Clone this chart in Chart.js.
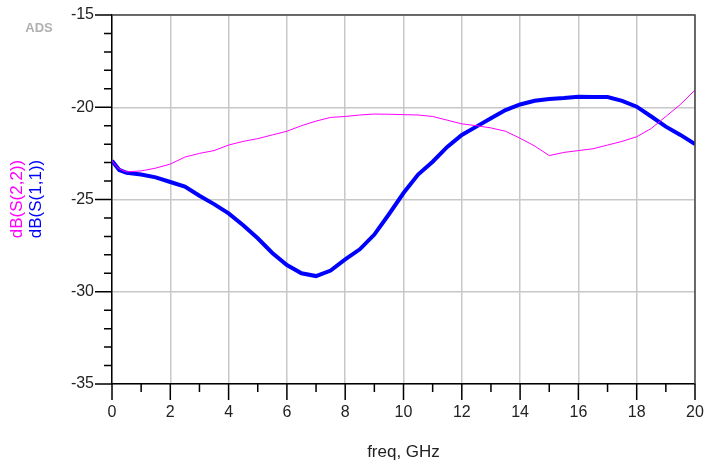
<!DOCTYPE html>
<html>
<head>
<meta charset="utf-8">
<script src="https://cdn.jsdelivr.net/npm/chart.js@4"></script>
<style>
  html, body { margin: 0; padding: 0; background: #fff; }
  #wrap { width: 708px; height: 468px; }
</style>
</head>
<body>
<div id="wrap"><canvas id="sparam"></canvas></div>
<script>
// frequency points (GHz) shared by both traces
const freqGHz = [0, 0.1, 0.25, 0.5, 1, 1.5, 2, 2.5, 3, 3.5, 4, 4.5, 5, 5.5, 6, 6.5, 7, 7.5, 8, 8.5, 9, 9.5, 10,
  10.5, 11, 11.5, 12, 12.5, 13, 13.5, 14, 14.5, 15, 15.5, 16, 16.5, 17, 17.5, 18, 18.5, 19, 19.5, 20];

const dbS22 = [-22.9, -23.1, -23.35, -23.5, -23.45, -23.3, -23.08, -22.7, -22.5, -22.35, -22.05, -21.85, -21.7,
  -21.5, -21.3, -21.0, -20.75, -20.55, -20.5, -20.42, -20.37, -20.38, -20.4, -20.42, -20.5, -20.7, -20.9, -21.0,
  -21.12, -21.3, -21.68, -22.1, -22.62, -22.45, -22.35, -22.25, -22.05, -21.85, -21.6, -21.15, -20.5, -19.85, -19.07];

const dbS11 = [-22.9, -23.1, -23.4, -23.55, -23.65, -23.8, -24.05, -24.3, -24.8, -25.25, -25.75, -26.4, -27.1,
  -27.9, -28.55, -29.0, -29.15, -28.85, -28.25, -27.7, -26.9, -25.8, -24.65, -23.65, -22.95, -22.15, -21.5, -21.05,
  -20.6, -20.15, -19.85, -19.65, -19.55, -19.5, -19.43, -19.45, -19.45, -19.65, -19.97, -20.5, -21.05, -21.5, -22.0];

const xMin = 0, xMax = 20, xMajor = 2;
const yMin = -35, yMax = -15, yMajor = 5;

const FONT = "'Liberation Sans', Arial, sans-serif";

function pts(ys) {
  return freqGHz.map((f, i) => ({ x: f, y: ys[i] }));
}

// ADS-style decorations: outer frame, minor/major tick marks, stacked y titles, "ADS" tag
const adsDecor = {
  id: 'adsDecor',
  beforeDraw(chart) {
    const ctx = chart.ctx;
    ctx.save();
    ctx.fillStyle = '#fff';
    ctx.fillRect(0, 0, chart.width, chart.height);
    ctx.restore();
  },
  afterDraw(chart) {
    const ctx = chart.ctx;
    const a = chart.chartArea;
    const xs = chart.scales.x, ys = chart.scales.y;
    ctx.save();

    // top / right frame
    ctx.strokeStyle = '#444';
    ctx.lineWidth = 1.5;
    ctx.beginPath();
    ctx.moveTo(a.left, a.top);
    ctx.lineTo(a.right, a.top);
    ctx.lineTo(a.right, a.bottom);
    ctx.stroke();

    // tick marks
    ctx.strokeStyle = '#000';
    ctx.lineWidth = 1.5;
    ctx.beginPath();
    xs.ticks.forEach(t => {
      const px = xs.getPixelForValue(t.value);
      const len = (t.value % xMajor === 0) ? 16 : 8;
      ctx.moveTo(px, a.bottom);
      ctx.lineTo(px, a.bottom + len);
    });
    ys.ticks.forEach(t => {
      const py = ys.getPixelForValue(t.value);
      const len = (t.value % yMajor === 0) ? 17 : 8;
      ctx.moveTo(a.left, py);
      ctx.lineTo(a.left - len, py);
    });
    ctx.stroke();

    // stacked y titles
    ctx.font = '17px ' + FONT;
    ctx.textAlign = 'center';
    ctx.textBaseline = 'middle';
    ctx.translate(0, 199);
    ctx.rotate(-Math.PI / 2);
    ctx.fillStyle = '#ff00ff';
    ctx.fillText('dB(S(2,2))', 0, 17);
    ctx.fillStyle = '#0000ff';
    ctx.fillText('dB(S(1,1))', 0, 36);
    ctx.setTransform(1, 0, 0, 1, 0, 0);

    ctx.font = 'bold 13px ' + FONT;
    ctx.fillStyle = '#b0b0b0';
    ctx.textAlign = 'center';
    ctx.fillText('ADS', 39, 28);
    ctx.restore();
  }
};

new Chart(document.getElementById('sparam').getContext('2d'), {
  type: 'line',
  data: {
    datasets: [{
      label: 'dB(S(2,2))',
      data: pts(dbS22),
      borderColor: '#ff00ff',
      borderWidth: 1,
      pointRadius: 0,
      tension: 0
    }, {
      label: 'dB(S(1,1))',
      data: pts(dbS11),
      borderColor: '#0000ff',
      borderWidth: 4,
      pointRadius: 0,
      tension: 0
    }]
  },
  options: {
    responsive: true,
    maintainAspectRatio: false,
    animation: false,
    devicePixelRatio: 1,
    layout: { padding: { top: 15, right: 13, left: 0, bottom: 0 } },
    plugins: {
      legend: { display: false },
      tooltip: { enabled: false }
    },
    scales: {
      x: {
        type: 'linear',
        min: xMin,
        max: xMax,
        afterFit(s) { s.height = 84; s.paddingLeft = 0; s.paddingRight = 0; },
        border: { color: '#000', width: 1.5 },
        grid: {
          drawTicks: false,
          lineWidth: 1.5,
          color: c => (c.tick && c.tick.value % xMajor === 0) ? '#c8c8c8' : 'rgba(0,0,0,0)'
        },
        ticks: {
          stepSize: 1,
          autoSkip: false,
          maxRotation: 0,
          padding: 19,
          color: '#222',
          font: { family: FONT, size: 16 },
          callback: v => (v % xMajor === 0) ? String(v) : ''
        },
        title: {
          display: true,
          text: 'freq, GHz',
          color: '#222',
          font: { family: FONT, size: 17 },
          padding: { top: 0, bottom: 5 }
        }
      },
      y: {
        type: 'linear',
        min: yMin,
        max: yMax,
        afterFit(s) { s.width = 112; s.paddingTop = 0; s.paddingBottom = 0; },
        border: { color: '#000', width: 1.5 },
        grid: {
          drawTicks: false,
          lineWidth: 1.5,
          color: c => (c.tick && c.tick.value % yMajor === 0) ? '#c8c8c8' : 'rgba(0,0,0,0)'
        },
        ticks: {
          stepSize: 1,
          autoSkip: false,
          padding: 18,
          color: '#222',
          font: { family: FONT, size: 16 },
          callback: v => (v % yMajor === 0) ? String(v) : ''
        }
      }
    }
  },
  plugins: [adsDecor]
});
</script>
</body>
</html>
